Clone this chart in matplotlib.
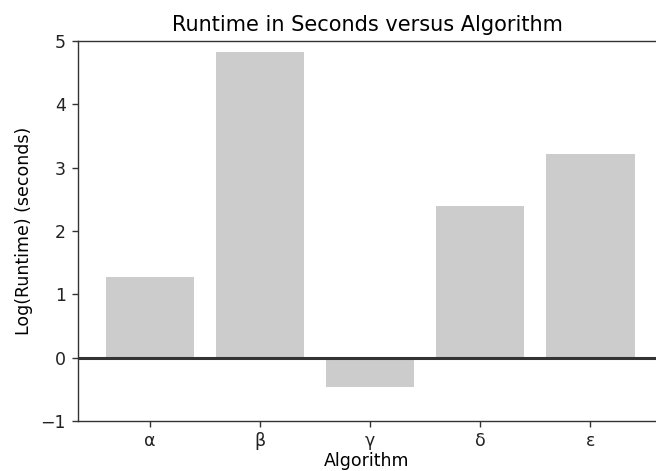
import matplotlib
matplotlib.use("Agg")
import matplotlib.pyplot as plt

algorithms = ["α", "β", "γ", "δ", "ε"]
log_runtime = [1.27, 4.82, -0.46, 2.40, 3.22]

S = 1.25  # reference looks like a default-style plot scaled up a bit
plt.rcParams.update({
    "font.size": 10 * S,
    "axes.linewidth": 0.8 * S,
    "xtick.major.size": 3.5 * S,
    "ytick.major.size": 3.5 * S,
    "xtick.major.width": 0.8 * S,
    "ytick.major.width": 0.8 * S,
    "xtick.major.pad": 3.0 * S,
    "ytick.major.pad": 3.5 * S,
})

fig = plt.figure(figsize=(6.56, 4.71), dpi=100)
ax = fig.add_axes([0.1189, 0.1062, 0.8811, 0.8068])

x = range(len(algorithms))
ax.bar(x, log_runtime, width=0.8, color="#cccccc")
ax.axhline(0, color="#333333", lw=2.2)

ax.set_xticks(list(x))
ax.set_xticklabels(algorithms)
ax.set_xlim(-0.655, 4.595)
ax.set_ylim(-1, 5)
ax.set_yticks([-1, 0, 1, 2, 3, 4, 5])
ax.spines["right"].set_visible(False)
for side in ("left", "bottom", "top"):
    ax.spines[side].set_color("#333333")
ax.tick_params(colors="#333333", labelcolor="#222222")

ax.set_title("Runtime in Seconds versus Algorithm", fontsize=12 * S, pad=6 * S)
ax.set_xlabel("Algorithm", labelpad=1)
ax.set_ylabel("Log(Runtime) (seconds)", labelpad=4 * S)

fig.savefig("out.png", dpi=100)
